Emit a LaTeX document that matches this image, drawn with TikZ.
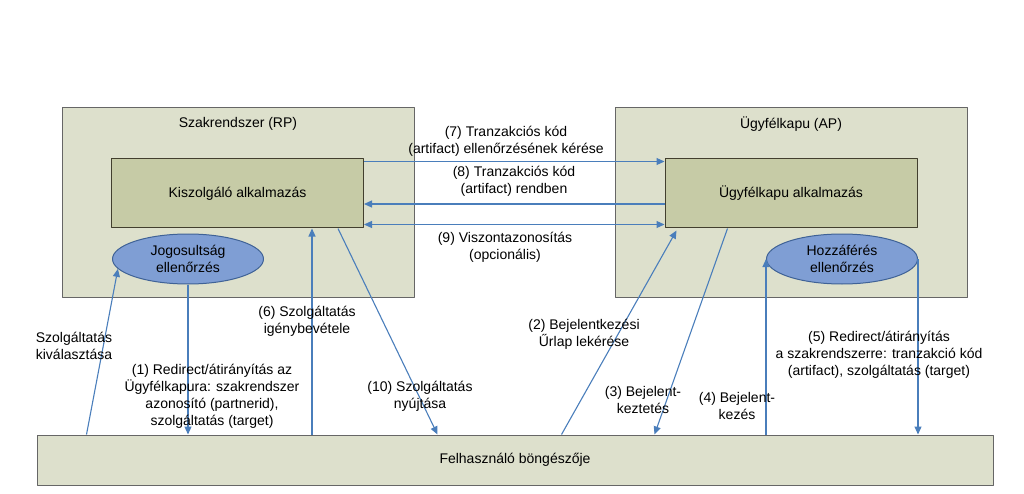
\documentclass[tikz,border=0pt]{standalone}
\usepackage{fontspec}
\setmainfont{Liberation Sans}
\usepackage{tikz}
\usetikzlibrary{shapes,arrows,arrows.meta}
\usetikzlibrary{calc}
\definecolor{kulso}{HTML}{DDE0CC}
\definecolor{belso}{HTML}{C6CBA6}
\definecolor{kek}{HTML}{7F9ED4}
\definecolor{kekvonal}{HTML}{3F6296}
\definecolor{nyilszin}{HTML}{4A7EBB}

\begin{document}
\begin{tikzpicture}[line cap=round,line join=round,>={Triangle[length=8pt,width=7pt]},x=1pt,y=-1pt,
	keret/.style={draw=gray!80!black,fill=kulso,line width=1pt,minimum width=352pt,minimum height=189pt,inner sep=0pt},
	alkalmazas/.style={draw=black!70!olive,fill=belso,line width=1pt,minimum width=252pt,minimum height=69pt,inner sep=0pt},
	ellenorzes/.style={ellipse,draw=kekvonal,fill=kek,line width=1pt,minimum width=151pt,minimum height=50pt,inner sep=0pt,align=center},
	nyil/.style={color=nyilszin,line width=1.1pt,line cap=butt},
	felirat/.style={align=center,inner sep=0pt,text=black}]
	\useasboundingbox (0,0) rectangle (1024,494);
	\fontsize{14}{17}\selectfont
	% dobozok
	\node[keret] (rp) at (238,202.5) {};
	\node[keret] (ap) at (791,202.5) {};
	\node[felirat] (rpcim) at (238,124) {Szakrendszer (RP)};
	\node[felirat] (apcim) at (791,124) {Ügyfélkapu (AP)};
	\node[alkalmazas] (kisz) at (237.5,193.5) {Kiszolgáló alkalmazás};
	\node[alkalmazas] (ugyalk) at (791,193.5) {Ügyfélkapu alkalmazás};
	\node[ellenorzes] (jog) at (188,259) {Jogosultság\\ellenőrzés};
	\node[ellenorzes] (hozz) at (842,259) {Hozzáférés\\ellenőrzés};
	\node[keret,minimum width=956pt,minimum height=50pt] (bong) at (515,460) {Felhasználó böngészője};
	% vizszintes nyilak
	\coordinate (k7) at ($(kisz.north east)+(0,3)$);
	\coordinate (k8) at ($(kisz.east)+(0,10.5)$);
	\coordinate (k9) at ($(kisz.south east)+(0,-4)$);
	\draw[nyil,->] (k7) -- (k7 -| ugyalk.west);
	\draw[nyil,<-] (k8) -- (k8 -| ugyalk.west);
	\draw[nyil,<->] (k9) -- (k9 -| ugyalk.west);
	\node[felirat] (t7) at (506,141) {(7) Tranzakciós kód\\(artifact) ellenőrzésének kérése};
	\node[felirat] (t8) at (514,181) {(8) Tranzakciós kód\\(artifact) rendben};
	\node[felirat] (t9) at (505,247) {(9) Viszontazonosítás\\(opcionális)};
	% fuggoleges nyilak
	\coordinate (b0) at ($(bong.north west)+(50,0)$);
	\coordinate (k6) at ($(kisz.south west)+(201,0)$);
	\coordinate (k10) at ($(kisz.south west)+(227,0)$);
	\coordinate (b10) at ($(bong.north west)+(401,0)$);
	\coordinate (b2) at ($(bong.north west)+(525,0)$);
	\coordinate (u2) at ($(ugyalk.south west)+(12,2)$);
	\coordinate (u3) at ($(ugyalk.south west)+(63,0)$);
	\coordinate (b3) at ($(bong.north west)+(618,0)$);
	\draw[nyil,->] (b0) -- (jog.188);
	\draw[nyil,->] (jog.south) -- (jog.south |- bong.north);
	\draw[nyil,<-] (k6) -- (k6 |- bong.north);
	\draw[nyil,->] (k10) -- (b10);
	\draw[nyil,->] (b2) -- (u2);
	\draw[nyil,->] (u3) -- (b3);
	\draw[nyil,<-] (hozz.west) -- (hozz.west |- bong.north);
	\draw[nyil,->] (hozz.east) -- (hozz.east |- bong.north);
	\node[felirat] (t0) at (74,346) {Szolgáltatás\\kiválasztása};
	\node[felirat] (t1) at (212,396.5) {(1) Redirect/átirányítás az\\Ügyfélkapura: szakrendszer\\azonosító (partnerid),\\szolgáltatás (target)};
	\node[felirat] (t6) at (307,321) {(6) Szolgáltatás\\igénybevétele};
	\node[felirat] (t10) at (420,396) {(10) Szolgáltatás\\nyújtása};
	\node[felirat] (t2) at (584,334) {(2) Bejelentkezési\\Űrlap lekérése};
	\node[felirat] (t3) at (643,400) {(3) Bejelent-\\keztetés};
	\node[felirat] (t4) at (737,406) {(4) Bejelent-\\kezés};
	\node[felirat] (t5) at (879,355) {(5) Redirect/átirányítás\\a szakrendszerre: tranzakció kód\\(artifact), szolgáltatás (target)};
\end{tikzpicture}
\end{document}
